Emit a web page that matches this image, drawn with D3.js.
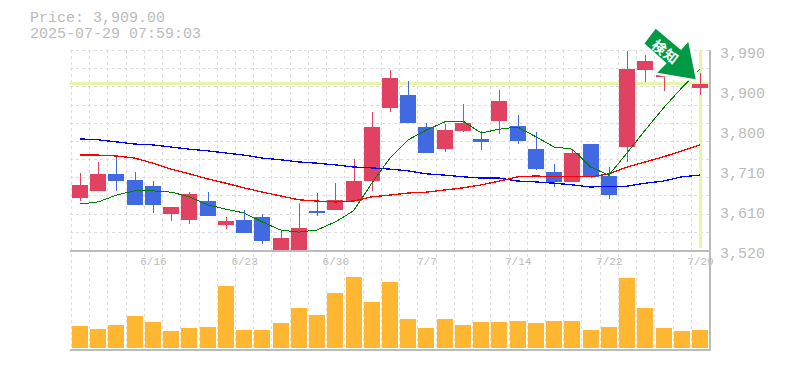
<!DOCTYPE html>
<html>
<head>
  <title>Price chart</title>
  <script src="https://d3js.org/d3.v7.min.js"></script>
  <style>
    body { margin: 0; background: #fff; font-family: "Liberation Mono", monospace; }
    svg { display: block; }
    .grid line { stroke: #ddd; stroke-dasharray: 3,3; shape-rendering: crispEdges; }
    .frame line { stroke: #bbb; stroke-width: 2; shape-rendering: crispEdges; }
    .axis path, .axis line { display: none; }
    .axis text { fill: #bbb; font-family: "Liberation Mono", monospace; }
    .head { fill: #bbb; font-size: 15px; }
  </style>
</head>
<body>
  <div id="chart"></div>
  <script>
    const priceTicks = [3990, 3896, 3802, 3708, 3614, 3520];
    const priceLabels = ["3,990", "3,900", "3,800", "3,710", "3,610", "3,520"];
    const dateTicks = [4, 9, 14, 19, 24, 29, 34];
    const dateLabels = ["6/16", "6/23", "6/30", "7/7", "7/14", "7/22", "7/29"];

    const opens = [3642, 3659, 3699, 3685, 3670, 3605, 3590, 3635, 3579, 3590, 3598, 3520, 3520, 3612, 3614, 3635, 3682, 3854, 3884, 3809, 3757, 3800, 3781, 3823, 3811, 3757, 3703, 3680, 3769, 3694, 3762, 3943, 3927, 3940, 3901];
    const highs = [3701, 3727, 3743, 3703, 3682, 3621, 3656, 3656, 3598, 3614, 3605, 3567, 3630, 3654, 3677, 3734, 3844, 3943, 3917, 3818, 3816, 3863, 3800, 3896, 3837, 3797, 3722, 3755, 3769, 3715, 3988, 3978, 3971, 3966, 3936];
    const lows = [3635, 3659, 3659, 3626, 3607, 3588, 3581, 3600, 3569, 3560, 3534, 3520, 3520, 3600, 3614, 3633, 3659, 3844, 3818, 3748, 3750, 3797, 3755, 3793, 3769, 3708, 3668, 3680, 3689, 3640, 3727, 3915, 3894, 3935, 3884];
    const closes = [3673, 3699, 3682, 3626, 3626, 3621, 3652, 3600, 3588, 3560, 3541, 3548, 3572, 3607, 3638, 3682, 3809, 3924, 3818, 3748, 3802, 3818, 3774, 3870, 3776, 3710, 3680, 3748, 3692, 3649, 3945, 3964, 3943, 3958, 3909];

    const maShort = [3628, 3633, 3649, 3659, 3659, 3656, 3645, 3626, 3616, 3607, 3586, 3567, 3562, 3567, 3586, 3612, 3677, 3736, 3779, 3802, 3821, 3823, 3795, 3804, 3809, 3786, 3762, 3757, 3715, 3696, 3748, 3802, 3854, 3901, 3945];
    const maMid = [3743, 3743, 3741, 3736, 3724, 3710, 3699, 3687, 3677, 3666, 3656, 3647, 3638, 3635, 3633, 3635, 3645, 3649, 3654, 3656, 3661, 3666, 3673, 3682, 3692, 3694, 3692, 3692, 3692, 3699, 3715, 3727, 3739, 3753, 3767];
    const maLong = [3781, 3779, 3774, 3769, 3767, 3762, 3757, 3753, 3748, 3743, 3736, 3732, 3727, 3724, 3720, 3715, 3713, 3710, 3706, 3699, 3696, 3692, 3689, 3689, 3682, 3680, 3677, 3673, 3668, 3670, 3670, 3677, 3682, 3692, 3696];

    // volume read as bar height, in shares
    const volumes = [22000, 19000, 23000, 32000, 26000, 17000, 20000, 21000, 62000, 18000, 18000, 25000, 40000, 33000, 55000, 71000, 46000, 66000, 29000, 20000, 29000, 23000, 26000, 26000, 27000, 25000, 27000, 27000, 18000, 21000, 70000, 40000, 20000, 17000, 18000];

    const lastPrice = 3909;
    const width = 785, height = 370;

    const svg = d3.select("#chart").append("svg")
      .attr("width", width)
      .attr("height", height);

    const x = d3.scaleLinear().domain([0, opens.length - 1]).range([80, 700]);
    const y = d3.scaleLinear().domain([3520, 3990]).range([250, 50]);
    const yVol = d3.scaleLinear().domain([0, 100000]).range([348, 248]);
    const step = x(1) - x(0);

    // Header
    svg.append("text").attr("class", "head").attr("x", 30).attr("y", 22).text("Price: 3,909.00");
    svg.append("text").attr("class", "head").attr("x", 30).attr("y", 38).text("2025-07-29 07:59:03");

    // Grid
    const grid = svg.append("g").attr("class", "grid");
    grid.selectAll(".h")
      .data(d3.range(11))
      .enter().append("line")
        .attr("x1", 70).attr("x2", 710)
        .attr("y1", d => Math.round(50 + d * 200 / 11) + 0.5)
        .attr("y2", d => Math.round(50 + d * 200 / 11) + 0.5);
    grid.selectAll(".v")
      .data(d3.range(opens.length))
      .enter().append("line")
        .attr("x1", d => Math.round(x(d) - step / 2) + 0.5)
        .attr("x2", d => Math.round(x(d) - step / 2) + 0.5)
        .attr("y1", 50).attr("y2", 350);

    // Last price highlight
    svg.append("rect")
      .attr("x", 70).attr("width", 640)
      .attr("y", Math.round(y(lastPrice)) - 2).attr("height", 3)
      .attr("fill", "#e6f5a9");
    svg.append("rect")
      .attr("x", Math.round(x(34)) - 1).attr("width", 3)
      .attr("y", 50).attr("height", 198)
      .attr("fill", "#e6f5a9");

    // Frame
    const frame = svg.append("g").attr("class", "frame");
    frame.append("line").attr("x1", 70).attr("x2", 711).attr("y1", 250.5).attr("y2", 250.5);
    frame.append("line").attr("x1", 70).attr("x2", 711).attr("y1", 350).attr("y2", 350);
    frame.append("line").attr("x1", 710).attr("x2", 710).attr("y1", 50).attr("y2", 351);

    // Volume
    svg.selectAll(".vol")
      .data(volumes)
      .enter().append("rect")
        .attr("class", "vol")
        .attr("x", (d, i) => Math.round(x(i)) - 8)
        .attr("width", 16)
        .attr("y", d => yVol(d))
        .attr("height", d => yVol(0) - yVol(d))
        .attr("fill", "#ffb732");

    // Candles
    const isUp = i => closes[i] >= opens[i];
    const color = i => isUp(i) ? "#e24262" : "#4169e1";
    svg.selectAll(".wick")
      .data(opens)
      .enter().append("line")
        .attr("class", "wick")
        .attr("x1", (d, i) => Math.round(x(i)) + 0.5)
        .attr("x2", (d, i) => Math.round(x(i)) + 0.5)
        .attr("y1", (d, i) => y(highs[i]))
        .attr("y2", (d, i) => y(lows[i]))
        .attr("stroke", (d, i) => color(i))
        .attr("shape-rendering", "crispEdges");
    svg.selectAll(".body")
      .data(opens)
      .enter().append("rect")
        .attr("class", "body")
        .attr("x", (d, i) => Math.round(x(i)) - 8)
        .attr("width", 16)
        .attr("y", (d, i) => y(Math.max(d, closes[i])))
        .attr("height", (d, i) => Math.abs(y(d) - y(closes[i])))
        .attr("fill", (d, i) => color(i))
        .attr("shape-rendering", "crispEdges");

    // Moving averages
    const line = d3.line().x((d, i) => x(i)).y(d => y(d));
    [[maLong, "#0000ff", 1.3], [maMid, "#ff0000", 1.3], [maShort, "#008000", 1]].forEach(([values, stroke, w]) => {
      svg.append("path")
        .attr("d", line(values))
        .attr("fill", "none")
        .attr("stroke", stroke)
        .attr("stroke-width", w)
        .attr("shape-rendering", "crispEdges");
    });

    // Axes
    svg.append("g")
      .attr("class", "axis")
      .attr("transform", "translate(711,3)")
      .call(d3.axisRight(y).tickValues(priceTicks).tickSize(0).tickPadding(9)
        .tickFormat((d, i) => priceLabels[i]))
      .selectAll("text").style("font-size", "15px");

    svg.append("g")
      .attr("class", "axis")
      .attr("transform", "translate(0,252)")
      .call(d3.axisBottom(x).tickValues(dateTicks).tickSize(0).tickPadding(5)
        .tickFormat((d, i) => dateLabels[i]))
      .selectAll("text").style("font-size", "11px");

    // Arrow marker
    const marker = svg.append("g").attr("class", "marker");
    marker.append("path")
      .attr("d", "M644.5,43.5 L655.7,28.7 L681,50 L688.3,42 L695.7,79.3 L657.3,72.7 L666.7,63.3 Z")
      .attr("fill", "#009944")
      .attr("stroke", "#fff")
      .attr("stroke-width", 5)
      .attr("paint-order", "stroke");
    marker.append("text")
      .attr("transform", "translate(666,51.5) rotate(38)")
      .attr("text-anchor", "middle")
      .attr("dominant-baseline", "central")
      .attr("fill", "#fff")
      .style("font-family", "'Noto Sans CJK JP'")
      .style("font-weight", "bold")
      .style("font-size", "14px")
      .style("letter-spacing", "1px")
      .text("検知");
  </script>
</body>
</html>
